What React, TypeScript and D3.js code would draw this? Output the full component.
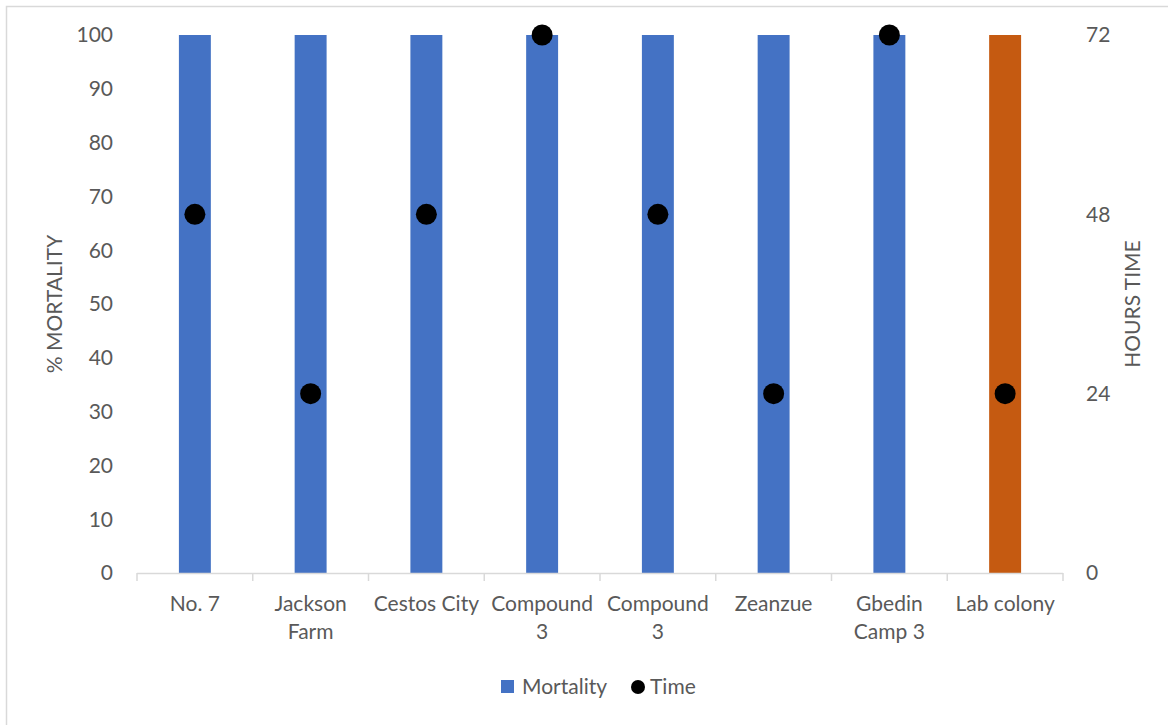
import React from "react";
import * as d3 from "d3";

// Mortality (%) per collection site and the exposure time (hours) at which it was reached
const sites = ["No. 7", "Jackson Farm", "Cestos City", "Compound 3", "Compound 3", "Zeanzue", "Gbedin Camp 3", "Lab colony"];
const siteLabelLines = [["No. 7"], ["Jackson", "Farm"], ["Cestos City"], ["Compound", "3"], ["Compound", "3"], ["Zeanzue"], ["Gbedin", "Camp 3"], ["Lab colony"]];
const mortality = [100, 100, 100, 100, 100, 100, 100, 100];
const hours = [48, 24, 48, 72, 48, 24, 72, 24];
const barColors = ["#4472C4", "#4472C4", "#4472C4", "#4472C4", "#4472C4", "#4472C4", "#4472C4", "#C55A11"];
const mortalityTicks = [0, 10, 20, 30, 40, 50, 60, 70, 80, 90, 100];
const hourTicks = [0, 24, 48, 72];

const W = 1168;
const H = 725;
const left = 137;
const right = 1063;
const top = 35;
const bottom = 573;
const textColor = "#595959";
const axisColor = "#D9D9D9";
const font = "Lato, 'Open Sans', sans-serif";
const fs = 21;

export default function App() {
  const idx = sites.map((_, i) => String(i));
  const x = d3.scaleBand<string>().domain(idx).range([left, right]).paddingInner(0.724).paddingOuter(0.362);
  const step = x.step();
  const bw = x.bandwidth();
  const yL = d3.scaleLinear().domain([0, 100]).range([bottom, top]);
  const yR = d3.scaleLinear().domain([0, 72]).range([bottom, top]);
  const cx = (i: number) => (x(String(i)) as number) + bw / 2;
  const midY = (top + bottom) / 2;

  return (
    <svg width={W} height={H} style={{ position: "absolute", left: 0, top: 0, background: "#fff" }} fontFamily={font}>
      <rect x={6.5} y={6.5} width={W} height={H} fill="#fff" stroke={axisColor} strokeWidth={1.5} />

      {/* bars */}
      {mortality.map((v, i) => (
        <rect key={"b" + i} x={x(String(i))} y={yL(v)} width={bw} height={yL(0) - yL(v)} fill={barColors[i]} />
      ))}

      {/* category axis */}
      <line x1={left} x2={right} y1={bottom + 0.5} y2={bottom + 0.5} stroke={axisColor} strokeWidth={1.5} />
      {d3.range(sites.length + 1).map((i) => (
        <line key={"t" + i} x1={left + i * step} x2={left + i * step} y1={bottom} y2={bottom + 8} stroke={axisColor} strokeWidth={1.5} />
      ))}
      {siteLabelLines.map((lines, i) => (
        <text key={"c" + i} x={cx(i)} y={604} textAnchor="middle" fontSize={fs} fill={textColor}>
          {lines.map((l, j) => (
            <tspan key={j} x={cx(i)} dy={j === 0 ? "0.35em" : 28}>{l}</tspan>
          ))}
        </text>
      ))}

      {/* left axis */}
      {mortalityTicks.map((t) => (
        <text key={"l" + t} x={113} y={yL(t)} dy="0.35em" textAnchor="end" fontSize={fs} fill={textColor}>{t}</text>
      ))}
      <text transform={`translate(55,${midY}) rotate(-90)`} textAnchor="middle" dy="0.35em" fontSize={fs} fill={textColor}>% MORTALITY</text>

      {/* right axis */}
      {hourTicks.map((t) => (
        <text key={"r" + t} x={1086} y={yR(t)} dy="0.35em" textAnchor="start" fontSize={fs} fill={textColor}>{t}</text>
      ))}
      <text transform={`translate(1133,${midY}) rotate(-90)`} textAnchor="middle" dy="0.35em" fontSize={fs} fill={textColor}>HOURS TIME</text>

      {/* time markers */}
      {hours.map((h, i) => (
        <circle key={"p" + i} cx={cx(i)} cy={yR(h)} r={10.5} fill="#000" />
      ))}

      {/* legend */}
      <rect x={501} y={680} width={13} height={13} fill={barColors[0]} />
      <text x={522} y={687} dy="0.35em" fontSize={fs} fill={textColor}>Mortality</text>
      <circle cx={638} cy={687} r={7} fill="#000" />
      <text x={650} y={687} dy="0.35em" fontSize={fs} fill={textColor}>Time</text>
    </svg>
  );
}
